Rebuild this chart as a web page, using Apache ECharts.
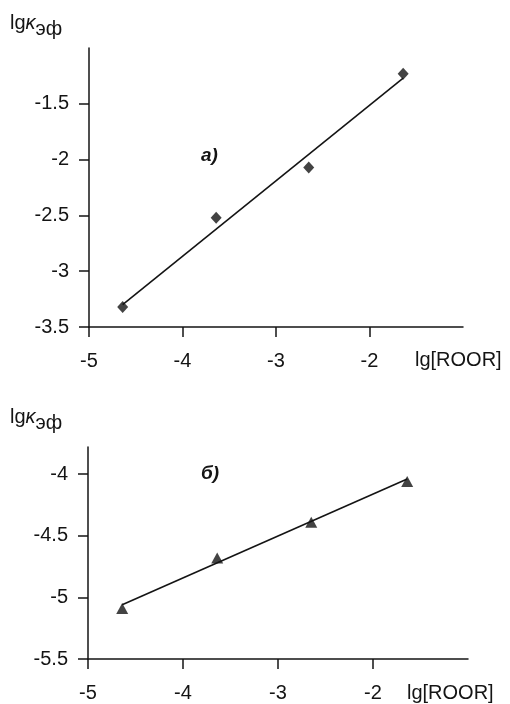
<!DOCTYPE html>
<html><head><meta charset="utf-8">
<script src="https://cdn.jsdelivr.net/npm/echarts@6/dist/echarts.min.js"></script>
<style>html,body{margin:0;padding:0;background:#fff}#c{width:510px;height:704px}</style>
</head><body><div id="c"></div>
<script>
// ---- data ----
const xTicks = [-5, -4, -3, -2];
const yTicksA = [-3.5, -3, -2.5, -2, -1.5];
const yTicksB = [-5.5, -5, -4.5, -4];
const xPoints = [-4.64, -3.64, -2.65, -1.64];
const yPointsA = [-3.32, -2.52, -2.07, -1.23];
const yPointsB = [-5.09, -4.68, -4.39, -4.06];
const trendX = [-4.64, -1.64];
const trendA = [-3.30, -1.27];
const trendB = [-5.06, -4.04];
const xName = 'lg[ROOR]';
const panelLabels = ['а)', 'б)'];

const ink = '#141414';
const font = '"Liberation Sans", Arial, sans-serif';
const fs = 20;
const chart = echarts.init(document.getElementById('c'));
const pairs = (xs, ys) => xs.map((x, i) => [x, ys[i]]);

function xAxisCfg(gi) {
  return {
    type: 'value', gridIndex: gi, min: -5, max: -1, interval: 1,
    axisLine: {lineStyle: {color: ink, width: 1.5}},
    axisTick: {show: true, length: 10, inside: false, customValues: xTicks, lineStyle: {color: ink, width: 1.5}},
    axisLabel: {customValues: xTicks, color: ink, fontFamily: font, fontSize: fs, margin: 24},
    splitLine: {show: false}
  };
}
function yAxisCfg(gi, min, max, ticks) {
  return {
    type: 'value', gridIndex: gi, min: min, max: max, interval: 0.5,
    axisLine: {show: true, lineStyle: {color: ink, width: 1.5}},
    axisTick: {show: true, length: 10, customValues: ticks, lineStyle: {color: ink, width: 1.5}},
    axisLabel: {customValues: ticks, color: ink, fontFamily: font, fontSize: fs, margin: 20},
    splitLine: {show: false}
  };
}
const yTitleRich = {
  a: {fontFamily: font, fontSize: 20, fontWeight: 'normal', color: ink},
  k: {fontFamily: font, fontSize: 20, fontWeight: 'normal', fontStyle: 'italic', color: ink},
  s: {fontFamily: font, fontSize: 20, fontWeight: 'normal', color: ink, padding: [12, 0, 0, 0]}
};
const plain = {fontFamily: font, fontSize: fs, fontWeight: 'normal', color: ink};
const panel = {fontFamily: font, fontSize: 19, fontWeight: 'bold', fontStyle: 'italic', color: ink};
chart.setOption({
  animation: false,
  grid: [
    {left: 89, top: 48, width: 374, height: 279},
    {left: 88, top: 447, width: 380, height: 212}
  ],
  xAxis: [xAxisCfg(0), xAxisCfg(1)],
  yAxis: [yAxisCfg(0, -3.5, -1, yTicksA), yAxisCfg(1, -5.5, -3.78, yTicksB)],
  title: [
    {text: '{a|lg}{k|κ}{s|эф}', left: 10, top: 7, padding: 0, textStyle: {rich: yTitleRich}},
    {text: '{a|lg}{k|κ}{s|эф}', left: 10, top: 401, padding: 0, textStyle: {rich: yTitleRich}},
    {text: panelLabels[0], left: 201, top: 146, padding: 0, textStyle: panel},
    {text: panelLabels[1], left: 201, top: 464, padding: 0, textStyle: panel},
    {text: xName, left: 415, top: 350, padding: 0, textStyle: plain},
    {text: xName, left: 407, top: 683, padding: 0, textStyle: plain}
  ],
  series: [
    {type: 'line', xAxisIndex: 0, yAxisIndex: 0, data: pairs(trendX, trendA), symbol: 'none', lineStyle: {color: ink, width: 1.6}},
    {type: 'scatter', xAxisIndex: 0, yAxisIndex: 0, data: pairs(xPoints, yPointsA), symbol: 'diamond', symbolSize: [11, 12], itemStyle: {color: ink}},
    {type: 'line', xAxisIndex: 1, yAxisIndex: 1, data: pairs(trendX, trendB), symbol: 'none', lineStyle: {color: ink, width: 1.6}},
    {type: 'scatter', xAxisIndex: 1, yAxisIndex: 1, data: pairs(xPoints, yPointsB), symbol: 'triangle', symbolSize: [12, 11], itemStyle: {color: ink}}
  ]
});
</script></body></html>
